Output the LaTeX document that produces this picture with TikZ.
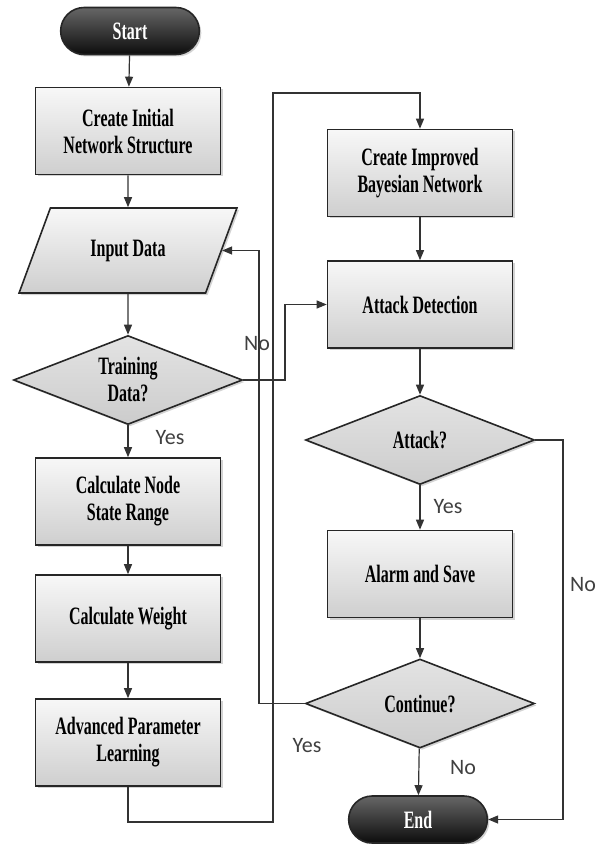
\documentclass[tikz,border=0pt]{standalone}
\usepackage{fontspec}
\setmainfont{Liberation Serif}
\newfontfamily\boxfont[FakeStretch=0.64]{Liberation Serif}
\newfontfamily\labelfont{Carlito}
\usetikzlibrary{shapes.geometric,shapes.misc,shadows,arrows.meta}

\begin{document}
\begin{tikzpicture}[x=0.5pt,y=-0.5pt,
  base/.style={draw=black!85,line width=0.8pt,align=center,
    font=\boxfont\bfseries\fontsize{12.5}{13.5}\selectfont,
    drop shadow={shadow xshift=1pt,shadow yshift=-1pt,opacity=0.35}},
  proc/.style={base,rectangle,minimum width=92.5pt,minimum height=43.5pt,
    top color=gray!6,bottom color=gray!38},
  decide/.style={base,diamond,aspect=2.5,inner sep=0pt,minimum width=114.5pt,
    minimum height=44.5pt,top color=gray!22,bottom color=gray!40},
  inout/.style={base,trapezium,trapezium left angle=63,trapezium right angle=117,
    trapezium stretches=true,minimum width=109pt,minimum height=42.5pt,
    top color=gray!6,bottom color=gray!38},
  term/.style={base,rounded rectangle,minimum width=76pt,minimum height=23.5pt,
    top color=black!60,bottom color=black!95,text=white},
  arr/.style={draw=black!80,line width=0.6pt,-{Triangle[length=5pt,width=4pt]}},
  line/.style={draw=black!80,line width=0.6pt},
  lbl/.style={font=\labelfont\fontsize{11}{12}\selectfont,text=black!75}]
  \useasboundingbox (0,0) rectangle (605,844);

  \node[term]   (start)    at (130,31)    {Start};
  \node[proc]   (init)     at (128,131)   {Create Initial\\Network Structure};
  \node[inout]  (input)    at (128,250.5) {Input Data};
  \node[decide] (train)    at (128,380)   {Training\\Data?};
  \node[proc]   (calcnode) at (128,501.5) {Calculate Node\\State Range};
  \node[proc]   (weight)   at (128,618.5) {Calculate Weight};
  \node[proc]   (learn)    at (128,742.5) {Advanced Parameter\\Learning};

  \node[proc]   (improved) at (420,173)   {Create Improved\\Bayesian Network};
  \node[proc]   (detect)   at (420,304.5) {Attack Detection};
  \node[decide] (attack)   at (420,440)   {Attack?};
  \node[proc]   (alarm)    at (420,574)   {Alarm and Save};
  \node[decide] (cont)     at (420,703.5) {Continue?};
  \node[term]   (end)      at (418,819.5) {End};

  \draw[arr] (start) -- (init);
  \draw[arr] (init) -- (input);
  \draw[arr] (input) -- (train);
  \draw[arr] (train) -- (calcnode);
  \draw[arr] (calcnode) -- (weight);
  \draw[arr] (weight) -- (learn);
  \draw[arr] (learn.south) |- (273,822) -- (273,93) -| (improved.north);
  \draw[arr] (improved) -- (detect);
  \draw[arr] (train.east) -- (285,380) |- (detect.west);
  \draw[arr] (detect) -- (attack);
  \draw[arr] (attack) -- (alarm);
  \draw[arr] (attack.east) -- (563,440) |- (end.east);
  \draw[arr] (alarm) -- (cont);
  \draw[arr] (cont) -- (end);
  \draw[arr] (cont.west) -- (259,703.5) |- (input.east);

  \node[lbl] (yestrain) at (170,438) {Yes};
  \node[lbl] (notrain)  at (257,344) {No};
  \node[lbl] (yesatk)   at (448,507) {Yes};
  \node[lbl] (noatk)    at (583,585) {No};
  \node[lbl] (yescont)  at (307,746) {Yes};
  \node[lbl] (nocont)   at (463,768) {No};
\end{tikzpicture}
\end{document}
